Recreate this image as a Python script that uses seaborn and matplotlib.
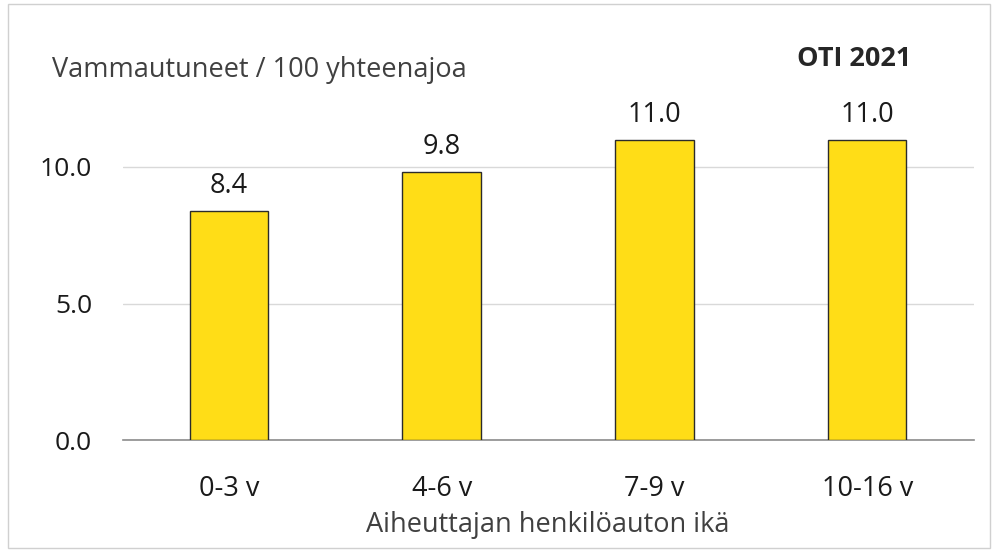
import matplotlib
matplotlib.use("Agg")
import matplotlib.pyplot as plt
import seaborn as sns
import pandas as pd
from matplotlib.patches import Rectangle

# data
categories = ["0-3 v", "4-6 v", "7-9 v", "10-16 v"]
values = [8.4, 9.8, 11.0, 11.0]
yticks = [0.0, 5.0, 10.0]

df = pd.DataFrame({"ika": categories, "arvo": values})

sns.set_theme(style="white")
plt.rcParams["font.family"] = ["Open Sans", "DejaVu Sans"]

fs = 19.5
fig = plt.figure(figsize=(10.02, 5.52), dpi=100)
W, H = 1002, 552
left, right, bottom, top = 122.5, 973.5, 440, 90
ax = fig.add_axes([left / W, 1 - bottom / H, (right - left) / W, (bottom - top) / H])

sns.barplot(data=df, x="ika", y="arvo", color="#FFDD17", edgecolor="#2b2b2b",
            linewidth=1.0, width=0.37, saturation=1, ax=ax, zorder=3)

ymax = (bottom - top) / 27.3
ax.set_ylim(0, ymax)
ax.set_xlim(-0.5, 3.5)
ax.set_yticks(yticks)
ax.set_yticklabels([f"{t:.1f}" for t in yticks], fontsize=19, color="#1a1a1a")
ax.set_xticklabels(categories, fontsize=fs, color="#1a1a1a")
ax.tick_params(axis="x", pad=25, length=0)
ax.tick_params(axis="y", pad=22, length=0)
ax.grid(axis="y", color="#d9d9d9", linewidth=1, zorder=0)
for s in ["top", "right", "left"]:
    ax.spines[s].set_visible(False)
ax.spines["bottom"].set_color("#8c8c8c")
ax.spines["bottom"].set_linewidth(1.2)
ax.set_ylabel("")
ax.set_xlabel("Aiheuttajan henkilöauton ikä", fontsize=fs, color="#404040", labelpad=6)

for i, v in enumerate(values):
    ax.annotate(f"{v:.1f}", (i, v), xytext=(0, 8), textcoords="offset points",
                ha="center", va="bottom", fontsize=fs, color="#1a1a1a")

fig.text(52 / W, 1 - 70 / H, "Vammautuneet / 100 yhteenajoa", fontsize=fs,
         color="#404040", va="center", ha="left")
fig.text(854 / W, 1 - 59 / H, "OTI 2021", fontsize=fs, fontweight="bold",
         color="#262626", va="center", ha="center")

fig.patches.append(Rectangle((8 / W, 4 / H), 982 / W, 544 / H, transform=fig.transFigure,
                             fill=False, edgecolor="#d0d0d0", linewidth=1))

fig.savefig("out.png", dpi=100)
